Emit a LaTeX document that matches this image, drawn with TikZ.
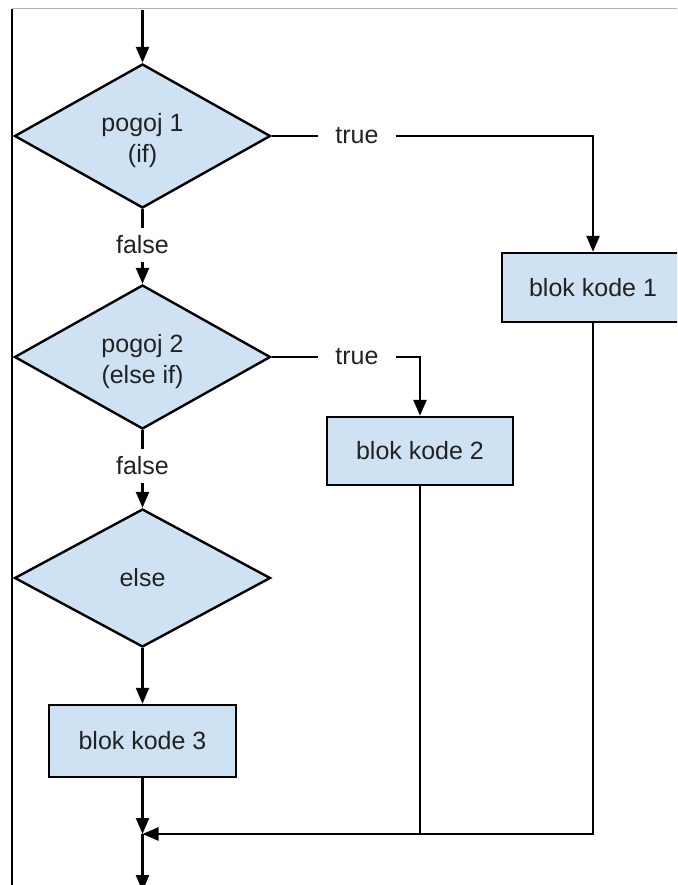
\documentclass[tikz,border=0pt]{standalone}
\usepackage{fontspec}
\setmainfont{Liberation Sans}
\usetikzlibrary{shapes.geometric,arrows.meta}
\definecolor{boxblue}{HTML}{CFE2F3}
\definecolor{txt}{HTML}{222222}
\newcommand{\lowtxt}[1]{\raisebox{-5pt}[\height][\depth]{\begin{tabular}{@{}c@{}}#1\end{tabular}}}
\begin{document}
\begin{tikzpicture}[x=1pt,y=-1pt,
  every node/.style={font=\fontsize{25}{31}\selectfont, text=txt},
  cond/.style={diamond, draw=black, line width=2.4pt, fill=boxblue, minimum width=256pt, minimum height=138pt, inner sep=0pt, align=center},
  blk/.style={rectangle, draw=black, line width=2.4pt, fill=boxblue, align=center, inner sep=0pt},
  lbl/.style={inner xsep=17pt, inner ysep=8pt},
  conn/.style={line width=2.4pt},
  arr/.style={conn, -{Triangle[length=16pt,width=13pt]}}]
\useasboundingbox (0,0) rectangle (677,885);
\clip (0,0) rectangle (677,885);
\fill[white] (0,0) rectangle (677,885);
% frame
\draw[black!30, line width=1pt] (12,9) -- (677,9);
\draw[black, line width=2.5pt] (12,9) -- (12,885);
% nodes
\node[cond] (d1) at (142.5,136) {\lowtxt{pogoj 1\\(if)}};
\node[cond] (d2) at (142.5,357) {\lowtxt{pogoj 2\\(else if)}};
\node[cond] (d3) at (142.5,578) {else};
\node[blk, minimum width=182pt, minimum height=69pt] (b1) at (593,287.5) {blok kode 1};
\node[blk, minimum width=186pt, minimum height=68pt] (b2) at (420,451) {blok kode 2};
\node[blk, minimum width=187pt, minimum height=72pt] (b3) at (142.5,741) {blok kode 3};
\node[lbl] (t1) at (357,136) {true};
\node[lbl] (t2) at (357,357) {true};
\node[lbl] (f1) at (142.5,245) {false};
\node[lbl] (f2) at (142.5,466) {false};
\coordinate (top) at (142.5,10);
\coordinate (m) at (142.5,834);
\coordinate (bot) at (142.5,891);
% connectors
\draw[arr] (top) -- (d1.north);
\draw[conn] (d1.south) -- (f1.north);
\draw[arr] (f1.south) -- (d2.north);
\draw[conn] (d1.east) -- (t1.west);
\draw[arr] (t1.east) -| (b1.north);
\draw[conn] (d2.south) -- (f2.north);
\draw[arr] (f2.south) -- (d3.north);
\draw[conn] (d2.east) -- (t2.west);
\draw[arr] (t2.east) -| (b2.north);
\draw[arr] (d3.south) -- (b3.north);
\draw[arr] (b3.south) -- (m);
\draw[arr] (b1.south) |- (m);
\draw[conn] (b2.south) -- (b2.south |- m);
\draw[arr] (m) -- (bot);
\end{tikzpicture}
\end{document}
